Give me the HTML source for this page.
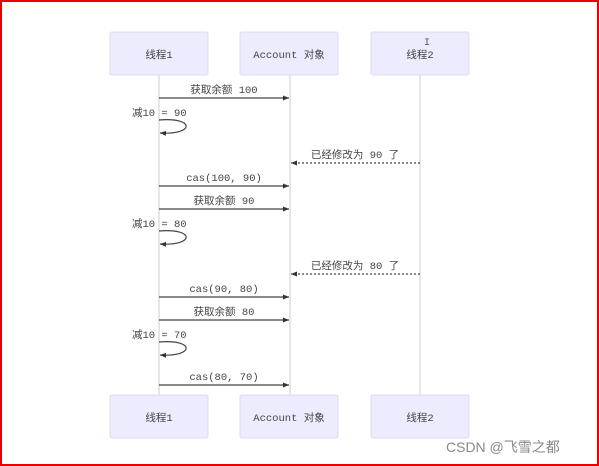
<!DOCTYPE html><html><head><meta charset="utf-8"><style>
body{margin:0;width:599px;height:466px;overflow:hidden;background:#fff}
.f{position:absolute;left:0;top:0;width:595px;height:462px;border:2px solid #e00}
</style></head><body><div class="f"></div>
<svg width="599" height="466" style="position:absolute;left:0;top:0" font-family="Liberation Mono,Noto Sans CJK SC,monospace" font-size="10.5">
<defs><marker id="a" markerWidth="8" markerHeight="8" refX="6" refY="2.5" orient="auto" markerUnits="userSpaceOnUse"><path d="M0,0L6,2.5L0,5z" fill="#333"/></marker></defs>
<g stroke="#ccc" stroke-width="1"><line x1="159" y1="75" x2="159" y2="395"/><line x1="290" y1="75" x2="290" y2="395"/><line x1="420" y1="75" x2="420" y2="395"/></g>
<g fill="#ececfe" stroke="#dcdcf4"><rect x="110" y="32" width="98" height="43" rx="2"/><rect x="240" y="32" width="98" height="43" rx="2"/><rect x="371" y="32" width="98" height="43" rx="2"/>
<rect x="110" y="395" width="98" height="43" rx="2"/><rect x="240" y="395" width="98" height="43" rx="2"/><rect x="371" y="395" width="98" height="43" rx="2"/></g>
<g fill="#444" text-anchor="middle"><text x="159" y="58">线程1</text><text x="289" y="58">Account 对象</text><text x="420" y="58">线程2</text>
<text x="159" y="421">线程1</text><text x="289" y="421">Account 对象</text><text x="420" y="421">线程2</text></g>
<g stroke="#444" fill="none" stroke-width="1.2">
<line x1="159" y1="98" x2="289" y2="98" marker-end="url(#a)"/>
<path d="M159,120 C195,117 195,135 160,133" marker-end="url(#a)"/>
<line x1="420" y1="163" x2="291" y2="163" stroke-dasharray="2,2" marker-end="url(#a)"/>
<line x1="159" y1="186" x2="289" y2="186" marker-end="url(#a)"/>
<line x1="159" y1="209" x2="289" y2="209" marker-end="url(#a)"/>
<path d="M159,231 C195,228 195,246 160,244" marker-end="url(#a)"/>
<line x1="420" y1="274" x2="291" y2="274" stroke-dasharray="2,2" marker-end="url(#a)"/>
<line x1="159" y1="297" x2="289" y2="297" marker-end="url(#a)"/>
<line x1="159" y1="320" x2="289" y2="320" marker-end="url(#a)"/>
<path d="M159,342 C195,339 195,357 160,355" marker-end="url(#a)"/>
<line x1="159" y1="385" x2="289" y2="385" marker-end="url(#a)"/>
</g>
<g fill="#444" text-anchor="middle">
<text x="224" y="93">获取余额 100</text><text x="355" y="158">已经修改为 90 了</text>
<text x="224" y="181">cas(100, 90)</text><text x="224" y="204">获取余额 90</text>
<text x="355" y="269">已经修改为 80 了</text><text x="224" y="292">cas(90, 80)</text>
<text x="224" y="315">获取余额 80</text><text x="224" y="380">cas(80, 70)</text></g>
<g fill="#444"><text x="132" y="116">减10 = 90</text><text x="132" y="227">减10 = 80</text><text x="132" y="338">减10 = 70</text></g>
<text x="424" y="45" font-size="10" fill="#555">I</text>
<text x="446" y="452" font-family="Liberation Sans,Noto Sans CJK SC,sans-serif" font-size="14" fill="#888">CSDN @飞雪之都</text>
</svg></body></html>
